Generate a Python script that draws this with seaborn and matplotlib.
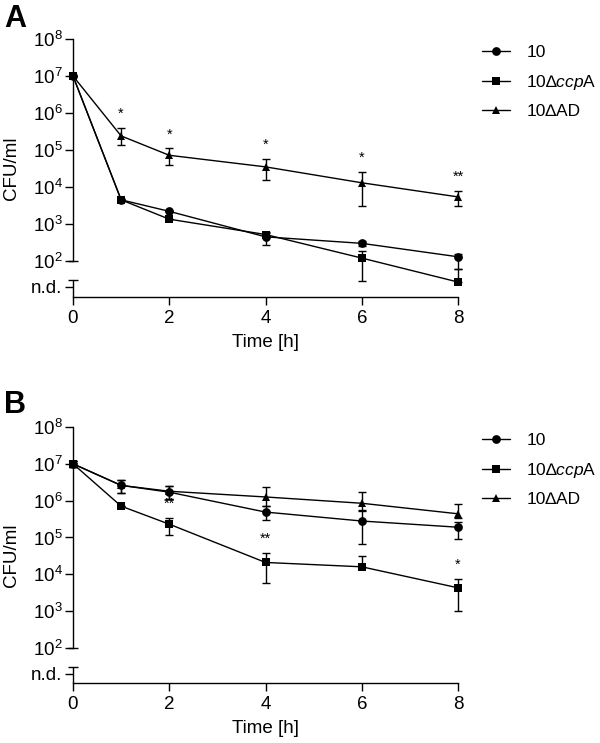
import numpy as np
import pandas as pd
import seaborn as sns
import matplotlib.pyplot as plt
from matplotlib.lines import Line2D

# Tiempos de muestreo (h)
tiempos = [0, 1, 2, 4, 6, 8]
cepas = ['10', '10ΔccpA', '10ΔAD']
etiquetas = ['10', '10∆$\\it{ccp}$A', '10∆AD']
marcadores = {'10': 'o', '10ΔccpA': 's', '10ΔAD': '^'}

# Panel A: medias y limites de las barras de error (CFU/ml)
a_wt = [1e7, 4.5e3, 2.2e3, 4.5e2, 3.0e2, 1.3e2]
a_wt_lo = [1e7, 4.5e3, 2.2e3, 2.7e2, 2.6e2, 6.0e1]
a_wt_hi = [1e7, 4.5e3, 2.2e3, 6.0e2, 3.5e2, 1.55e2]
a_ccpa = [1e7, 4.5e3, 1.35e3, 5.2e2, 1.2e2, 2.7e1]
a_ccpa_lo = [1e7, 4.5e3, 1.35e3, 5.2e2, 2.9e1, 2.7e1]
a_ccpa_hi = [1e7, 4.5e3, 1.35e3, 5.8e2, 1.9e2, 6.0e1]
a_ad = [1e7, 2.4e5, 7.2e4, 3.5e4, 1.3e4, 5.4e3]
a_ad_lo = [1e7, 1.4e5, 3.9e4, 1.5e4, 3.1e3, 3.1e3]
a_ad_hi = [1e7, 3.9e5, 1.1e5, 5.7e4, 2.6e4, 7.8e3]
a_estrellas_t = [1, 2, 4, 6, 8]
a_estrellas = ['*', '*', '*', '*', '**']

# Panel B
b_wt = [1e7, 2.6e6, 1.7e6, 4.9e5, 2.8e5, 1.9e5]
b_wt_lo = [8e6, 1.6e6, 1.1e6, 3.0e5, 6.6e4, 9.2e4]
b_wt_hi = [1.2e7, 3.6e6, 2.5e6, 7.0e5, 5.6e5, 2.7e5]
b_ccpa = [1e7, 7.1e5, 2.3e5, 2.1e4, 1.6e4, 4.3e3]
b_ccpa_lo = [8e6, 7.1e5, 1.2e5, 5.7e3, 1.6e4, 1.0e3]
b_ccpa_hi = [1.2e7, 7.1e5, 3.4e5, 3.8e4, 3.1e4, 7.4e3]
b_ad = [1e7, 2.6e6, 1.8e6, 1.26e6, 8.5e5, 4.4e5]
b_ad_lo = [8e6, 1.6e6, 1.1e6, 7.1e5, 5.2e5, 3.3e5]
b_ad_hi = [1.2e7, 3.6e6, 2.5e6, 2.3e6, 1.7e6, 8.1e5]
b_estrellas_t = [2, 4, 8]
b_estrellas = ['**', '**', '*']

ND = 20  # posicion de "n.d."

sns.set_theme(style="ticks")
plt.rcParams['font.family'] = ['Liberation Sans', 'DejaVu Sans']
plt.rcParams['mathtext.fontset'] = 'custom'
plt.rcParams['mathtext.rm'] = 'Liberation Sans'
plt.rcParams['mathtext.it'] = 'Liberation Sans:italic'
plt.rcParams['mathtext.bf'] = 'Liberation Sans:bold'
plt.rcParams['text.color'] = 'black'
plt.rcParams['axes.labelcolor'] = 'black'
plt.rcParams['xtick.color'] = 'black'
plt.rcParams['ytick.color'] = 'black'
plt.rcParams['axes.edgecolor'] = 'black'

FS = 13.5
FS_LEY = 12.5
fig = plt.figure(figsize=(6, 7.43), dpi=100)


def panel(ax, series, estrellas_t, estrellas, ref_estrellas, ymin):
    ax.set_yscale('log')
    # barras de error primero, para que los marcadores queden encima
    for media, lo, hi in series.values():
        media, lo, hi = np.array(media), np.array(lo), np.array(hi)
        eb = ax.errorbar(tiempos, media, yerr=[media - lo, hi - media], fmt='none',
                         ecolor='black', elinewidth=1.0, capsize=2.8, capthick=1.0)
        for art in eb.get_children():
            art.set_clip_on(False)
    filas = []
    for cepa, (media, lo, hi) in series.items():
        for t, v in zip(tiempos, media):
            filas.append({'t': t, 'cfu': v, 'cepa': cepa})
    df = pd.DataFrame(filas)
    sns.lineplot(data=df, x='t', y='cfu', style='cepa', markers=marcadores, dashes=False,
                 color='black', errorbar=None, legend=False, ax=ax, lw=1.0,
                 markersize=6.3, markeredgewidth=0, clip_on=False, zorder=3)
    for t, s in zip(estrellas_t, estrellas):
        ax.annotate(s, (t, ref_estrellas[tiempos.index(t)]), xytext=(0, 5),
                    textcoords='offset points', ha='center', va='bottom', fontsize=10.5)

    ax.set_xlim(0, 8)
    ax.set_ylim(ymin, 1e8)
    ax.set_xticks([0, 2, 4, 6, 8])
    ax.set_xticklabels(['0', '2', '4', '6', '8'], fontsize=FS)
    yt = [ND] + [10.0 ** k for k in range(2, 9)]
    ax.set_yticks(yt)
    ax.set_yticklabels(['n.d.'] + [f'$10^{{{k}}}$' for k in range(2, 9)], fontsize=FS)
    ax.yaxis.set_minor_locator(plt.NullLocator())
    ax.xaxis.set_minor_locator(plt.NullLocator())
    ax.tick_params(axis='both', which='major', length=6, width=1.0)
    ax.tick_params(axis='y', pad=1.5)
    ax.tick_params(axis='x', pad=3.5)
    sns.despine(ax=ax)
    for lado in ['left', 'bottom']:
        ax.spines[lado].set_linewidth(1.0)
    # eje Y partido
    ax.spines['left'].set_bounds(1e2, 1e8)
    tr = ax.get_yaxis_transform()
    corte = 10 ** 1.49
    ax.plot([0, 0], [ymin, corte], transform=tr, color='black', lw=1.0, clip_on=False)
    for yy in [corte, 1e2]:
        ax.plot([-0.013, 0.013], [yy, yy], transform=tr, color='black', lw=1.0,
                clip_on=False, solid_capstyle='butt')

    ax.set_xlabel('Time [h]', fontsize=FS, labelpad=5)
    ax.set_ylabel('CFU/ml', fontsize=FS)
    ax.yaxis.set_label_coords(-0.138, 0.5)


ax_a = fig.add_axes([73 / 600, 1 - 297 / 743, 385 / 600, 258 / 743])
panel(ax_a,
      {'10': (a_wt, a_wt_lo, a_wt_hi),
       '10ΔccpA': (a_ccpa, a_ccpa_lo, a_ccpa_hi),
       '10ΔAD': (a_ad, a_ad_lo, a_ad_hi)},
      a_estrellas_t, a_estrellas, a_ad_hi, 10 ** 1.027)

ax_b = fig.add_axes([73 / 600, 1 - 683 / 743, 385 / 600, 256 / 743])
panel(ax_b,
      {'10': (b_wt, b_wt_lo, b_wt_hi),
       '10ΔccpA': (b_ccpa, b_ccpa_lo, b_ccpa_hi),
       '10ΔAD': (b_ad, b_ad_lo, b_ad_hi)},
      b_estrellas_t, b_estrellas, b_ccpa_hi, 10 ** 1.049)

handles = [Line2D([], [], color='black', lw=1.0, marker=marcadores[c], markersize=6.3,
                  markeredgewidth=0) for c in cepas]
for ax, ytop in [(ax_a, 45), (ax_b, 433)]:
    ax.legend(handles, etiquetas, loc='upper left', bbox_to_anchor=(482 / 600, 1 - ytop / 743),
              bbox_transform=fig.transFigure, frameon=False, borderpad=0, borderaxespad=0,
              handlelength=1.6, handletextpad=0.95, labelspacing=0.72, fontsize=FS_LEY)

fig.text(4 / 600, 1 - 27 / 743, 'A', fontsize=22, fontweight='bold', va='baseline')
fig.text(4 / 600, 1 - 413 / 743, 'B', fontsize=22, fontweight='bold', va='baseline')

fig.savefig('out.png', dpi=100)
